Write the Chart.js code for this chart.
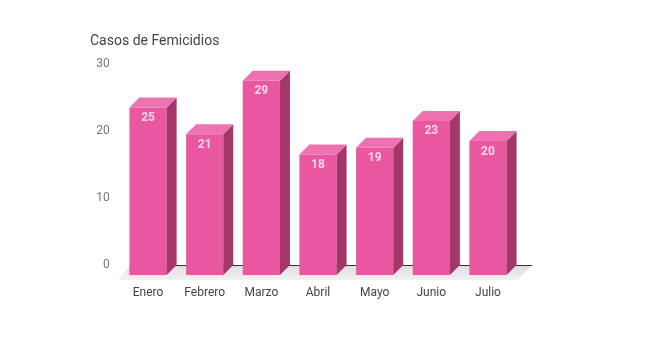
<!DOCTYPE html>
<html>
<head>
<meta charset="utf-8">
<script src="https://cdn.jsdelivr.net/npm/chart.js@4/dist/chart.umd.min.js"></script>
<style>
html,body{margin:0;padding:0;background:#fff;}
#wrap{width:653px;height:356px;position:relative;}
</style>
</head>
<body>
<div id="wrap"><canvas id="c" width="653" height="356"></canvas></div>
<script>
const categories = ["Enero","Febrero","Marzo","Abril","Mayo","Junio","Julio"];
const casos = [25, 21, 29, 18, 19, 23, 20];
const yTicks = [0, 10, 20, 30];
const chartTitle = "Casos de Femicidios";

const DX = 10, DY = 10;
const FRONT = "#e8579f", TOP = "#ee72af", SIDE = "#a3376a";

const bar3d = {
  id: "bar3d",
  beforeDatasetsDraw(chart) {
    const ctx = chart.ctx, xs = chart.scales.x, ys = chart.scales.y;
    const y0 = ys.getPixelForValue(0);
    const bY = y0 - DY, fY = y0 + 5;
    ctx.save();
    const g = ctx.createLinearGradient(0, bY, 0, fY);
    g.addColorStop(0, "#dcdcdc");
    g.addColorStop(1, "#f2f2f2");
    ctx.fillStyle = g;
    ctx.beginPath();
    ctx.moveTo(xs.left + 12, bY);
    ctx.lineTo(xs.right + 16, bY);
    ctx.lineTo(xs.right + 1, fY);
    ctx.lineTo(xs.left - 2, fY);
    ctx.closePath();
    ctx.fill();
    ctx.strokeStyle = "#333";
    ctx.lineWidth = 1;
    ctx.beginPath();
    ctx.moveTo(xs.left + 10, bY + 0.5);
    ctx.lineTo(xs.right + 16, bY + 0.5);
    ctx.stroke();
    ctx.restore();
  },
  afterDatasetsDraw(chart) {
    const ctx = chart.ctx;
    const meta = chart.getDatasetMeta(0);
    ctx.save();
    meta.data.forEach((el, i) => {
      const p = el.getProps(["x","y","base","width"], true);
      const xl = p.x - p.width / 2, xr = p.x + p.width / 2;
      const yt = p.y, yb = p.base;
      ctx.fillStyle = SIDE;
      ctx.beginPath();
      ctx.moveTo(xr, yt);
      ctx.lineTo(xr + DX, yt - DY);
      ctx.lineTo(xr + DX, yb - DY);
      ctx.lineTo(xr, yb);
      ctx.closePath();
      ctx.fill();
      ctx.fillStyle = TOP;
      ctx.beginPath();
      ctx.moveTo(xl, yt);
      ctx.lineTo(xl + DX, yt - DY);
      ctx.lineTo(xr + DX, yt - DY);
      ctx.lineTo(xr, yt);
      ctx.closePath();
      ctx.fill();
      ctx.fillStyle = "#fad6e8";
      ctx.font = "bold 12px Roboto";
      ctx.textAlign = "center";
      ctx.textBaseline = "middle";
      ctx.fillText(String(casos[i]), p.x, yt + 10.5);
    });
    ctx.restore();
  }
};

new Chart(document.getElementById("c"), {
  type: "bar",
  data: {
    labels: categories,
    datasets: [{
      data: casos,
      backgroundColor: FRONT,
      borderWidth: 0,
      barPercentage: 0.82,
      categoryPercentage: 0.8
    }]
  },
  options: {
    responsive: false,
    animation: false,
    events: [],
    layout: { padding: { left: 90, right: 136.7, top: 0, bottom: 51 } },
    plugins: {
      legend: { display: false },
      tooltip: { enabled: false },
      title: {
        display: true,
        text: chartTitle,
        align: "start",
        color: "#444",
        font: { family: "Roboto", size: 14, weight: "normal", lineHeight: 1.2 },
        padding: { top: 32.6, bottom: 24.6 }
      }
    },
    scales: {
      x: {
        grid: { display: false, drawTicks: false },
        border: { display: false },
        ticks: { color: "#444", font: { family: "Roboto", size: 12 }, padding: 11 },
        afterFit(s) { s.height = 30; }
      },
      y: {
        min: 0, max: 30,
        afterBuildTicks(s) { s.ticks = yTicks.map(v => ({ value: v })); },
        grid: { display: false, drawTicks: false },
        border: { display: false },
        ticks: { color: "#777", font: { family: "Roboto", size: 12 }, padding: 10, labelOffset: -10 },
        afterFit(s) { s.width = 29.7; }
      }
    }
  },
  plugins: [bar3d]
});
</script>
</body>
</html>
